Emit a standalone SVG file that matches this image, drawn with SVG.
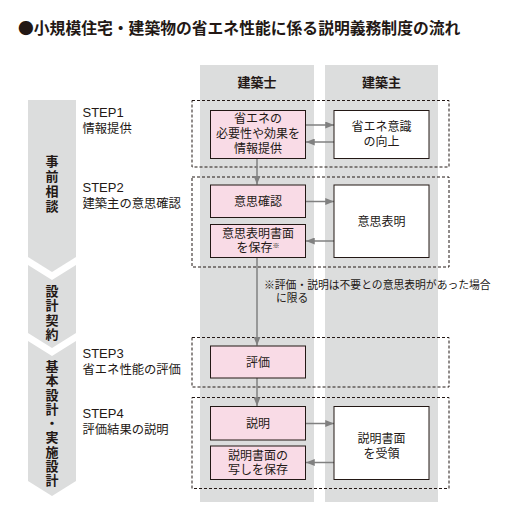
<svg xmlns="http://www.w3.org/2000/svg" width="518" height="517" viewBox="0 0 518 517">
<defs>
<style>
text{font-family:"Noto Sans CJK JP","Liberation Sans",sans-serif;fill:#231815}
.t{font-size:15.8px;font-weight:bold}
.h{font-size:13px;font-weight:bold;text-anchor:middle}
.v{font-size:13px;font-weight:bold;writing-mode:vertical-rl;text-orientation:upright}
.s{font-size:13px;font-family:"Liberation Sans","Noto Sans CJK JP",sans-serif}
.l{font-size:12.3px}
.b{font-size:12px;text-anchor:middle}
.n{font-size:10.8px}
.col{fill:#dcdddd}
.pink{fill:#f9dbe6;stroke:#231815;stroke-width:1}
.white{fill:#ffffff;stroke:#231815;stroke-width:1}
.dash{fill:none;stroke:#231815;stroke-width:1;stroke-dasharray:3 2}
.ar{stroke:#808080;stroke-width:1.5;fill:none}
</style>
<marker id="ah" viewBox="0 0 10 8" refX="10" refY="4" markerWidth="9" markerHeight="7" markerUnits="userSpaceOnUse" orient="auto">
<path d="M0,0 L10,4 L0,8 Z" fill="#808080"/>
</marker>
</defs>
<rect width="518" height="517" fill="#ffffff"/>
<text class="t" x="18" y="33.5">●小規模住宅・建築物の省エネ性能に係る説明義務制度の流れ</text>

<g id="columns">
<rect class="col" x="200" y="65" width="114" height="437"/>
<rect class="col" x="325" y="65" width="113" height="437"/>
<text class="h" x="257" y="87">建築士</text>
<text class="h" x="381.5" y="87">建築主</text>
</g>

<g id="phases">
<path class="col" d="M28,100 H76 V257 L52,272 L28,257 Z"/>
<path class="col" d="M28,265 L52,280 L76,265 V333 L52,348 L28,333 Z"/>
<path class="col" d="M28,341 L52,356 L76,341 V481 L52,496 L28,481 Z"/>
<text class="v" x="52" y="155" letter-spacing="2">事前相談</text>
<text class="v" x="52" y="284.5" letter-spacing="1.3">設計契約</text>
<text class="v" x="52" y="359.5" letter-spacing="1.3">基本設計・実施設計</text>
</g>

<g id="step-labels">
<text class="s" x="82.5" y="117">STEP1</text>
<text class="l" x="82.5" y="132.5">情報提供</text>
<text class="s" x="82.5" y="192">STEP2</text>
<text class="l" x="82.5" y="207.5">建築主の意思確認</text>
<text class="s" x="82.5" y="358">STEP3</text>
<text class="l" x="82.5" y="373.5">省エネ性能の評価</text>
<text class="s" x="82.5" y="418">STEP4</text>
<text class="l" x="82.5" y="433.5">評価結果の説明</text>
</g>

<g id="step-frames">
<rect class="dash" x="192" y="100.5" width="257" height="66.5"/>
<rect class="dash" x="192" y="177" width="257" height="90"/>
<rect class="dash" x="192" y="337.5" width="257" height="49.5"/>
<rect class="dash" x="192" y="397.5" width="257" height="91"/>
</g>

<g id="connectors">
<line class="ar" x1="306" y1="125" x2="334" y2="125" marker-end="url(#ah)"/>
<line class="ar" x1="334" y1="142" x2="306" y2="142" marker-end="url(#ah)"/>
<line class="ar" x1="306" y1="201.5" x2="334" y2="201.5" marker-end="url(#ah)"/>
<line class="ar" x1="334" y1="241" x2="306" y2="241" marker-end="url(#ah)"/>
<line class="ar" x1="306" y1="423.5" x2="334" y2="423.5" marker-end="url(#ah)"/>
<line class="ar" x1="334" y1="462.5" x2="306" y2="462.5" marker-end="url(#ah)"/>
<line class="ar" x1="257" y1="158.5" x2="257" y2="184.5" marker-end="url(#ah)"/>
<line class="ar" x1="257" y1="258" x2="257" y2="345.5" marker-end="url(#ah)"/>
<line class="ar" x1="257" y1="378" x2="257" y2="406" marker-end="url(#ah)"/>
</g>

<g id="n-info">
<rect class="pink" x="210.5" y="110.5" width="95" height="48"/>
<text class="b"><tspan x="258" y="122.5">省エネの</tspan><tspan x="258" y="137.5">必要性や効果を</tspan><tspan x="258" y="152.5">情報提供</tspan></text>
</g>
<g id="n-awareness">
<rect class="white" x="334" y="110.5" width="95" height="48"/>
<text class="b"><tspan x="381.5" y="131">省エネ意識</tspan><tspan x="381.5" y="146">の向上</tspan></text>
</g>
<g id="n-confirm">
<rect class="pink" x="210.5" y="185" width="95" height="32.5"/>
<text class="b" x="258" y="205.5">意思確認</text>
</g>
<g id="n-keep">
<rect class="pink" x="210.5" y="224.5" width="95" height="33"/>
<text class="b"><tspan x="258" y="237.5">意思表明書面</tspan><tspan x="258" y="251.5">を保存<tspan font-size="7" dy="-4">※</tspan></tspan></text>
</g>
<g id="n-express">
<rect class="white" x="334" y="185" width="95" height="72.5"/>
<text class="b" x="381.5" y="225.5">意思表明</text>
</g>
<g id="note">
<text class="n"><tspan x="264" y="288.5">※評価・説明は不要との意思表明があった場合</tspan><tspan x="276" y="302">に限る</tspan></text>
</g>
<g id="n-eval">
<rect class="pink" x="210.5" y="346" width="95" height="32"/>
<text class="b" x="258" y="366.5">評価</text>
</g>
<g id="n-explain">
<rect class="pink" x="210.5" y="406.5" width="95" height="33.5"/>
<text class="b" x="258" y="427.5">説明</text>
</g>
<g id="n-copy">
<rect class="pink" x="210.5" y="446" width="95" height="33.5"/>
<text class="b"><tspan x="258" y="459.5">説明書面の</tspan><tspan x="258" y="473.5">写しを保存</tspan></text>
</g>
<g id="n-receive">
<rect class="white" x="334" y="406.5" width="95" height="73"/>
<text class="b"><tspan x="381.5" y="442.5">説明書面</tspan><tspan x="381.5" y="457.5">を受領</tspan></text>
</g>
</svg>
